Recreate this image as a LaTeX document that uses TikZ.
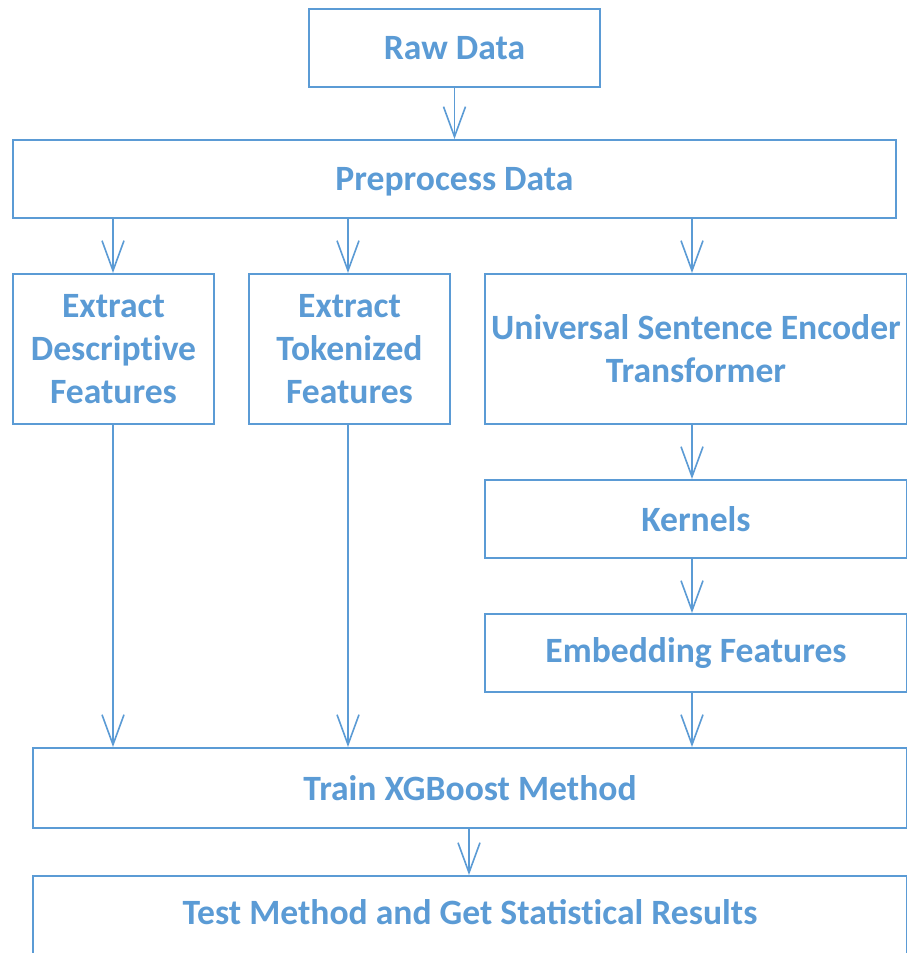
\documentclass[tikz,border=0pt]{standalone}
\usepackage{fontspec}
\setmainfont{Carlito}
\usetikzlibrary{arrows.meta}
\definecolor{flowblue}{RGB}{91,155,213}
% \nolig keeps a letter pair from being joined into a ligature
\newcommand{\nolig}{\kern0pt }
\tikzset{
  stage/.style={draw=flowblue, line width=2pt, text=flowblue, font=\fontsize{35.6}{43}\selectfont\bfseries,
    align=center, inner sep=0pt, anchor=north west},
  flow/.style={draw=flowblue, line width=1.6pt, -{Straight Barb[length=30pt,width=22pt,line width=1.6pt]}}
}
\begin{document}
\begin{tikzpicture}[x=1pt,y=-1pt]
\clip (0,0) rectangle (907,953);
\fill[white] (0,0) rectangle (907,953);
% boxes, placed by their top-left corners
\node[stage, minimum width=291pt, minimum height=78pt] (raw) at (308,8) {Raw Data};
\node[stage, minimum width=883pt, minimum height=78pt] (prep) at (12,139) {\raisebox{-3pt}[\height][\depth]{Preprocess Data}};
\node[stage, minimum width=201pt, minimum height=150pt] (desc) at (12,273) {Extract\\Descript\nolig ive\\Features};
\node[stage, minimum width=201pt, minimum height=150pt] (tok) at (248,273) {Extract\\Tokenized\\Features};
\node[stage, minimum width=422pt, minimum height=150pt] (use) at (484,273) {Universal Sentence Encoder\\Transformer};
\node[stage, minimum width=422pt, minimum height=78pt] (kern) at (484,479) {Kernels};
\node[stage, minimum width=422pt, minimum height=78pt] (emb) at (484,613) {Embedding Features};
\node[stage, minimum width=874pt, minimum height=80pt] (train) at (32,747) {Train XGBoost Method};
\node[stage, minimum width=874pt, minimum height=84pt, text height=24pt] (test) at (32,875) {\raisebox{6pt}{Test Method and Get Statist\nolig ical Results}};
% connectors
\draw[flow] (raw.south) -- (raw.south |- prep.north);
\coordinate (pd) at (113,217);
\coordinate (pt) at (348,217);
\coordinate (pu) at (692,217);
\draw[flow] (pd) -- (pd |- desc.north);
\draw[flow] (pt) -- (pt |- tok.north);
\draw[flow] (pu) -- (pu |- use.north);
\draw[flow] (use.south -| pu) -- (pu |- kern.north);
\draw[flow] (kern.south -| pu) -- (pu |- emb.north);
\draw[flow] (emb.south -| pu) -- (pu |- train.north);
\draw[flow] (desc.south -| pd) -- (pd |- train.north);
\draw[flow] (tok.south -| pt) -- (pt |- train.north);
\coordinate (tm) at (469,827);
\draw[flow] (tm) -- (tm |- test.north);
\end{tikzpicture}
\end{document}
